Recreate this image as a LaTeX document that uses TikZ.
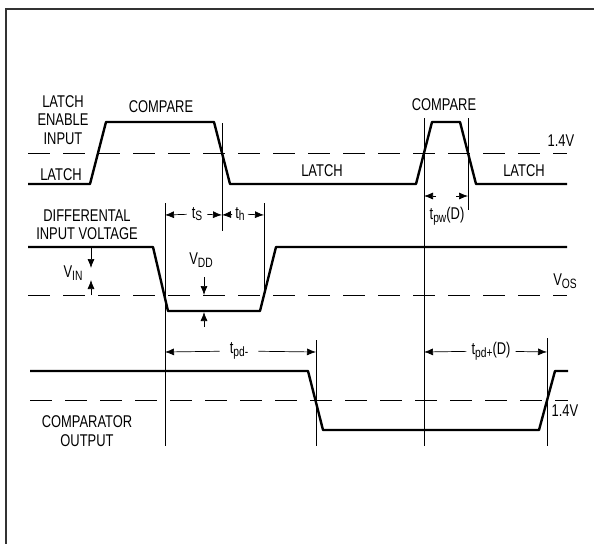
\documentclass[tikz,border=0pt]{standalone}
\usepackage{fontspec}
\setmainfont[FakeStretch=0.76]{Liberation Sans}
\usetikzlibrary{arrows.meta}
\newcommand{\dn}[1]{\raisebox{-0.3ex}{\fontsize{13.5}{13.5}\selectfont #1}}

\begin{document}
\begin{tikzpicture}[x=1pt,y=-1pt,>={Latex[length=9pt,width=7pt]},
	wave/.style={line width=2.4pt,line join=round},
	guide/.style={line width=0.7pt},
	level/.style={line width=0.7pt,dash pattern=on 22pt off 13pt},
	lbl/.style={font=\fontsize{17}{18.5}\selectfont,inner sep=1pt,align=center},
	dim/.style={font=\fontsize{17}{18.5}\selectfont,inner ysep=1pt,inner xsep=5pt}]

	\useasboundingbox (0,0) rectangle (594,544);
	%\draw[gray!30,step=20] (0,0) grid (594,544);

	\draw[line width=1.4pt,black!80] (594,9) -- (6,9) -- (6,544);

	% reference levels
	\draw[level] (28,153) -- (567,153);
	\draw[level] (28,295) -- (567,295);
	\draw[level] (30,400) -- (568,400);

	% timing lines
	\draw[guide] (165,203) -- (165,446);
	\draw[guide] (222,123) -- (222,231);
	\draw[guide] (264,203) -- (264,297);
	\draw[guide] (316,340) -- (316,446);
	\draw[guide] (424,118) -- (424,446);
	\draw[guide] (468,118) -- (468,210);
	\draw[guide] (547,338) -- (547,446);

	% waveforms
	\draw[wave] (28,184) -- (90,184) -- (106,122) -- (214,122) -- (230,184)
		-- (416,184) -- (432,122) -- (460,122) -- (476,184) -- (567,184);
	\draw[wave] (28,247) -- (153,247) -- (168,311) -- (260,311) -- (276,247) -- (567,247);
	\draw[wave] (30,371) -- (308,371) -- (323,430) -- (539,430) -- (555,371) -- (568,371);

	% labels
	\node[lbl] (lei) at (63,120) {LATCH\\ENABLE\\INPUT};
	\node[lbl] (latA) at (61,175) {LATCH};
	\node[lbl] (cmpA) at (161,107) {COMPARE};
	\node[lbl] (cmpB) at (444,105) {COMPARE};
	\node[lbl] (latB) at (322,171) {LATCH};
	\node[lbl] (latC) at (524,171) {LATCH};
	\node[lbl] (vthA) at (561,141) {1.4V};
	\node[lbl] (dif) at (87,224.5) {DIFFERENTAL\\INPUT VOLTAGE};
	\node[lbl] (vin) at (73,273) {V\dn{IN}};
	\node[lbl] (vdd) at (201,260) {V\dn{DD}};
	\node[lbl] (vos) at (565,281) {V\dn{OS}};
	\node[lbl] (cmpo) at (87,431) {COMPARATOR\\OUTPUT};
	\node[lbl] (vthB) at (565,411) {1.4V};

	% amplitude arrows
	\coordinate (inH) at (91,247);
	\coordinate (inD) at (91,268);
	\coordinate (inL) at (91,295);
	\coordinate (inU) at (91,280);
	\draw[guide,->] (inH) -- (inD);
	\draw[guide,->] (inL) -- (inU);
	\coordinate (ddT) at (204,277);
	\coordinate (ddD) at (204,295);
	\coordinate (ddB) at (204,327);
	\coordinate (ddU) at (204,312);
	\draw[guide,->] (ddT) -- (ddD);
	\draw[guide,->] (ddB) -- (ddU);

	% time intervals
	\node[dim] (ts) at (197,214) {t\dn{S}};
	\node[dim,inner xsep=3pt] (th) at (240,214) {t\dn{h}};
	\coordinate (sL) at (165,215);
	\coordinate (sR) at (222,215);
	\coordinate (hR) at (264,215);
	\draw[guide,->] (ts) -- (sL);
	\draw[guide,->] (ts) -- (sR);
	\draw[guide,->] (th) -- (sR);
	\draw[guide,->] (th) -- (hR);

	\node[dim] (tpw) at (447,216) {t\dn{pw}(D)};
	\coordinate (pwL) at (424,196);
	\coordinate (pwLt) at (436,196);
	\coordinate (pwR) at (468,196);
	\coordinate (pwRt) at (456,196);
	\draw[guide,->] (pwLt) -- (pwL);
	\draw[guide,->] (pwRt) -- (pwR);

	\node[dim,inner xsep=10pt] (tpdm) at (239,351) {t\dn{pd-}};
	\coordinate (dmL) at (165,352);
	\coordinate (dmR) at (316,352);
	\draw[guide,->] (tpdm) -- (dmL);
	\draw[guide,->] (tpdm) -- (dmR);

	\node[dim] (tpdp) at (491,351) {t\dn{pd+}(D)};
	\coordinate (dpL) at (424,352);
	\coordinate (dpR) at (547,352);
	\draw[guide,->] (tpdp) -- (dpL);
	\draw[guide,->] (tpdp) -- (dpR);
\end{tikzpicture}
\end{document}
